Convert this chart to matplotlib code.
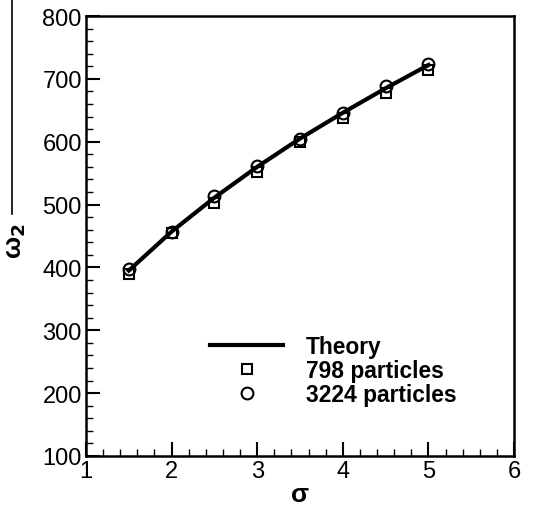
import numpy as np
import matplotlib
matplotlib.use("Agg")
import matplotlib.pyplot as plt
from matplotlib.ticker import MultipleLocator
from matplotlib.lines import Line2D

plt.rcParams['font.family'] = ['Liberation Sans', 'DejaVu Sans']

# --- datos ---
sigma = [1.5, 2.0, 2.5, 3.0, 3.5, 4.0, 4.5, 5.0]
theory = [395, 457, 511, 560, 605, 646, 685, 722]
p798 = [390, 455, 502, 552, 599, 638, 678, 714]
p3224 = [397, 457, 513, 561, 605, 646, 688, 723]

fig = plt.figure(figsize=(5.46, 5.06), dpi=100)
ax = fig.add_axes([86/546, 1 - 457/506, (514-86)/546, (457-17)/506])

ax.plot(sigma, theory, 'k-', lw=3, label='Theory')
ax.plot(sigma, p798, 'ks', mfc='none', ms=6.5, mew=1.5, label='798 particles')
ax.plot(sigma, p3224, 'ko', mfc='none', ms=8.5, mew=1.5, label='3224 particles')

ax.set_xlim(1, 6)
ax.set_ylim(100, 800)
ax.xaxis.set_major_locator(MultipleLocator(1))
ax.xaxis.set_minor_locator(MultipleLocator(0.2))
ax.yaxis.set_major_locator(MultipleLocator(100))
ax.yaxis.set_minor_locator(MultipleLocator(20))
ax.tick_params(which='both', direction='in', top=False, right=False,
               labelsize=17, width=1.5)
ax.tick_params(which='major', length=10, pad=3)
ax.tick_params(which='minor', length=5, width=1)
for s in ax.spines.values():
    s.set_linewidth(1.8)

ax.set_xlabel('σ', fontsize=19, fontweight='bold')
ax.xaxis.set_label_coords(0.5, -0.058)
ax.set_ylabel('ω$_\\mathbf{2}$', fontsize=19, fontweight='bold')
ax.yaxis.set_label_coords(-0.135, 0.49)

leg = ax.legend(loc='upper left', bbox_to_anchor=(0.29, 0.275), frameon=False,
                fontsize=16.4, handlelength=3.2, handletextpad=1.0,
                labelspacing=0.05, borderpad=0, borderaxespad=0)
for t in leg.get_texts():
    t.set_fontweight('bold')

# linea vertical del recorte original
fig.add_artist(Line2D([12/546, 12/546], [1, 1 - 215/506], color='k', lw=1.2))

fig.savefig('out.png', dpi=100)
